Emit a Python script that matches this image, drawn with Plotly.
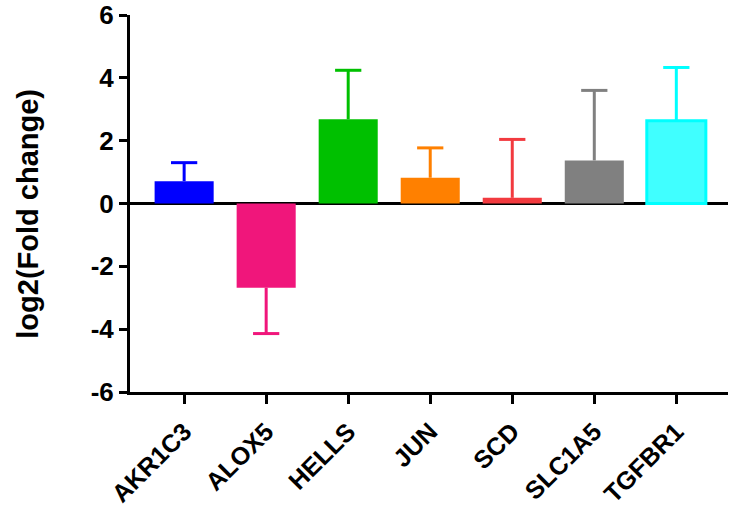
import plotly.graph_objects as go

genes = ["AKR1C3", "ALOX5", "HELLS", "JUN", "SCD", "SLC1A5", "TGFBR1"]
values = [0.71, -2.68, 2.68, 0.82, 0.18, 1.37, 2.63]
err_up = [0.59, 0.0, 1.56, 0.95, 1.86, 2.23, 1.70]
err_down = [0.0, 1.46, 0.0, 0.0, 0.0, 0.0, 0.0]
fill_colors = ["#0000FF", "#F0167B", "#00C000", "#FF8000", "#F23A3F", "#808080", "#40FFFF"]
line_colors = ["#0000FF", "#F0167B", "#00C000", "#FF8000", "#F23A3F", "#808080", "#00FFFF"]
y_ticks = [-6, -4, -2, 0, 2, 4, 6]
y_title = "log2(Fold change)"

font_family = "Liberation Sans, Arial, sans-serif"
bar_width = 0.72
cap_half = 0.16

x_pos = list(range(len(genes)))

fig = go.Figure()
fig.add_trace(go.Bar(
    x=x_pos, y=values, width=bar_width,
    marker=dict(color=fill_colors,
                line=dict(color=line_colors,
                          width=[3 if f != l else 0 for f, l in zip(fill_colors, line_colors)])),
    showlegend=False,
))

# one-sided error whiskers with a cap at the far end only
for xi, v, eu, ed, lc in zip(x_pos, values, err_up, err_down, line_colors):
    end = v + eu if eu > 0 else v - ed
    fig.add_trace(go.Scatter(
        x=[xi, xi, None, xi - cap_half, xi + cap_half],
        y=[v, end, None, end, end],
        mode="lines", line=dict(color=lc, width=3),
        showlegend=False, hoverinfo="skip",
    ))

fig.update_layout(
    width=735, height=514,
    margin=dict(l=130, r=7, t=15, b=122),
    plot_bgcolor="white", paper_bgcolor="white",
    font=dict(family=font_family, color="black"),
    xaxis=dict(
        range=[-0.66, 6.63],
        tickvals=x_pos, ticktext=genes,
        showline=True, linecolor="black", linewidth=3,
        ticks="outside", ticklen=9, tickwidth=3, tickcolor="black",
        tickangle=-45, automargin=False, ticklabelstandoff=3,
        tickfont=dict(family=font_family, size=25, color="black", weight="bold"),
        showgrid=False, zeroline=False,
    ),
    yaxis=dict(
        range=[-6, 6],
        tickvals=y_ticks,
        ticktext=[str(t) for t in y_ticks],
        showline=True, linecolor="black", linewidth=3,
        ticks="outside", ticklen=8, tickwidth=3, tickcolor="black",
        tickfont=dict(family=font_family, size=26, color="black", weight="bold"),
        ticklabeloverflow="allow",
        showgrid=False, automargin=False,
        zeroline=True, zerolinecolor="black", zerolinewidth=3,
    ),
    annotations=[dict(
        text=y_title, textangle=-90,
        xref="paper", x=-0.172, xanchor="center",
        yref="y", y=-0.32, yanchor="middle",
        showarrow=False,
        font=dict(family=font_family, size=29, color="black", weight="bold"),
    )],
)

fig.write_html("out.html", config={"displayModeBar": False},
               post_script="document.body.style.margin='0';")
